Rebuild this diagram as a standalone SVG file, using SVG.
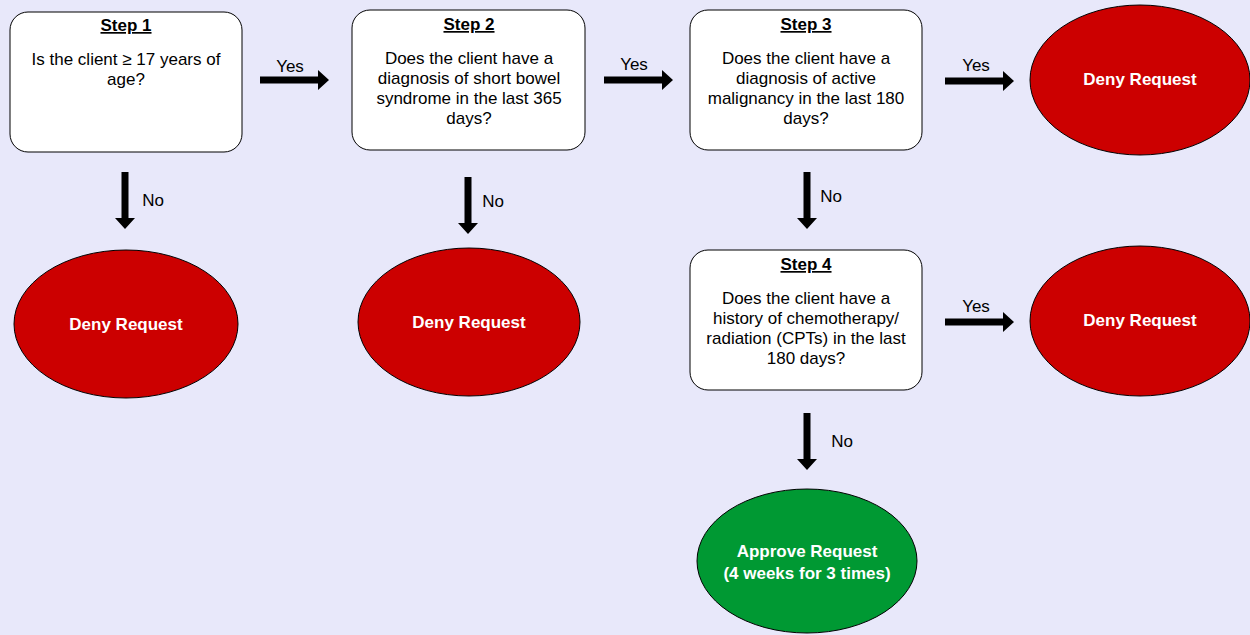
<svg xmlns="http://www.w3.org/2000/svg" width="1250" height="635" viewBox="0 0 1250 635">
<style>
.box{fill:#fff;stroke:#000;stroke-width:1}
.deny{fill:#cc0000;stroke:#000;stroke-width:1}
.ok{fill:#009933;stroke:#000;stroke-width:1}
text{font-family:"Liberation Sans",Arial,sans-serif;font-size:17px;fill:#000;text-anchor:middle}
.h{font-weight:bold;text-decoration:underline}
.w{fill:#fff;font-weight:bold}
.arr{fill:#000}
</style>
<defs>
<polygon id="ar" points="0,-3.5 58,-3.5 58,-10 69,0 58,10 58,3.5 0,3.5"/>
<polygon id="ad" points="-3.5,0 3.5,0 3.5,46 10,46 0,57 -10,46 -3.5,46"/>
</defs>
<rect width="1250" height="635" fill="#e8e8fa"/>
<g id="step1">
<rect class="box" x="10" y="12" width="232" height="140" rx="18"/>
<text class="h" x="126" y="31">Step 1</text>
<text x="126" y="65">Is the client ≥ 17 years of</text>
<text x="126" y="85">age?</text>
</g>
<g id="step2">
<rect class="box" x="352" y="10" width="233" height="140" rx="18"/>
<text class="h" x="469" y="30">Step 2</text>
<text x="469" y="64">Does the client have a</text>
<text x="469" y="84">diagnosis of short bowel</text>
<text x="469" y="104">syndrome in the last 365</text>
<text x="469" y="124">days?</text>
</g>
<g id="step3">
<rect class="box" x="690" y="10" width="232" height="140" rx="18"/>
<text class="h" x="806" y="30">Step 3</text>
<text x="806" y="64">Does the client have a</text>
<text x="806" y="84">diagnosis of active</text>
<text x="806" y="104">malignancy in the last 180</text>
<text x="806" y="124">days?</text>
</g>
<g id="step4">
<rect class="box" x="690" y="250" width="232" height="140" rx="18"/>
<text class="h" x="806" y="270">Step 4</text>
<text x="806" y="304">Does the client have a</text>
<text x="806" y="324">history of chemotherapy/</text>
<text x="806" y="344">radiation (CPTs) in the last</text>
<text x="806" y="364">180 days?</text>
</g>
<g id="deny1">
<ellipse class="deny" cx="126" cy="324" rx="112" ry="74"/>
<text class="w" x="126" y="330">Deny Request</text>
</g>
<g id="deny2">
<ellipse class="deny" cx="469" cy="322" rx="111" ry="74"/>
<text class="w" x="469" y="328">Deny Request</text>
</g>
<g id="deny3">
<ellipse class="deny" cx="1140" cy="80" rx="110" ry="75"/>
<text class="w" x="1140" y="85">Deny Request</text>
</g>
<g id="deny4">
<ellipse class="deny" cx="1140" cy="321" rx="110" ry="75"/>
<text class="w" x="1140" y="326">Deny Request</text>
</g>
<g id="approve">
<ellipse class="ok" cx="807" cy="561" rx="110" ry="72"/>
<text class="w" x="807" y="557">Approve Request</text>
<text class="w" x="807" y="579">(4 weeks for 3 times)</text>
</g>
<g id="connectors">
<use href="#ar" class="arr" x="260" y="80"/>
<text x="290" y="72">Yes</text>
<use href="#ar" class="arr" x="604" y="80"/>
<text x="634" y="70">Yes</text>
<use href="#ar" class="arr" x="945" y="81"/>
<text x="976" y="71">Yes</text>
<use href="#ar" class="arr" x="945" y="322"/>
<text x="976" y="312">Yes</text>
<use href="#ad" class="arr" x="125" y="172"/>
<text x="153" y="206">No</text>
<use href="#ad" class="arr" x="468" y="177"/>
<text x="493" y="207">No</text>
<use href="#ad" class="arr" x="807" y="172"/>
<text x="831" y="202">No</text>
<use href="#ad" class="arr" x="807" y="413"/>
<text x="842" y="447">No</text>
</g>
</svg>
